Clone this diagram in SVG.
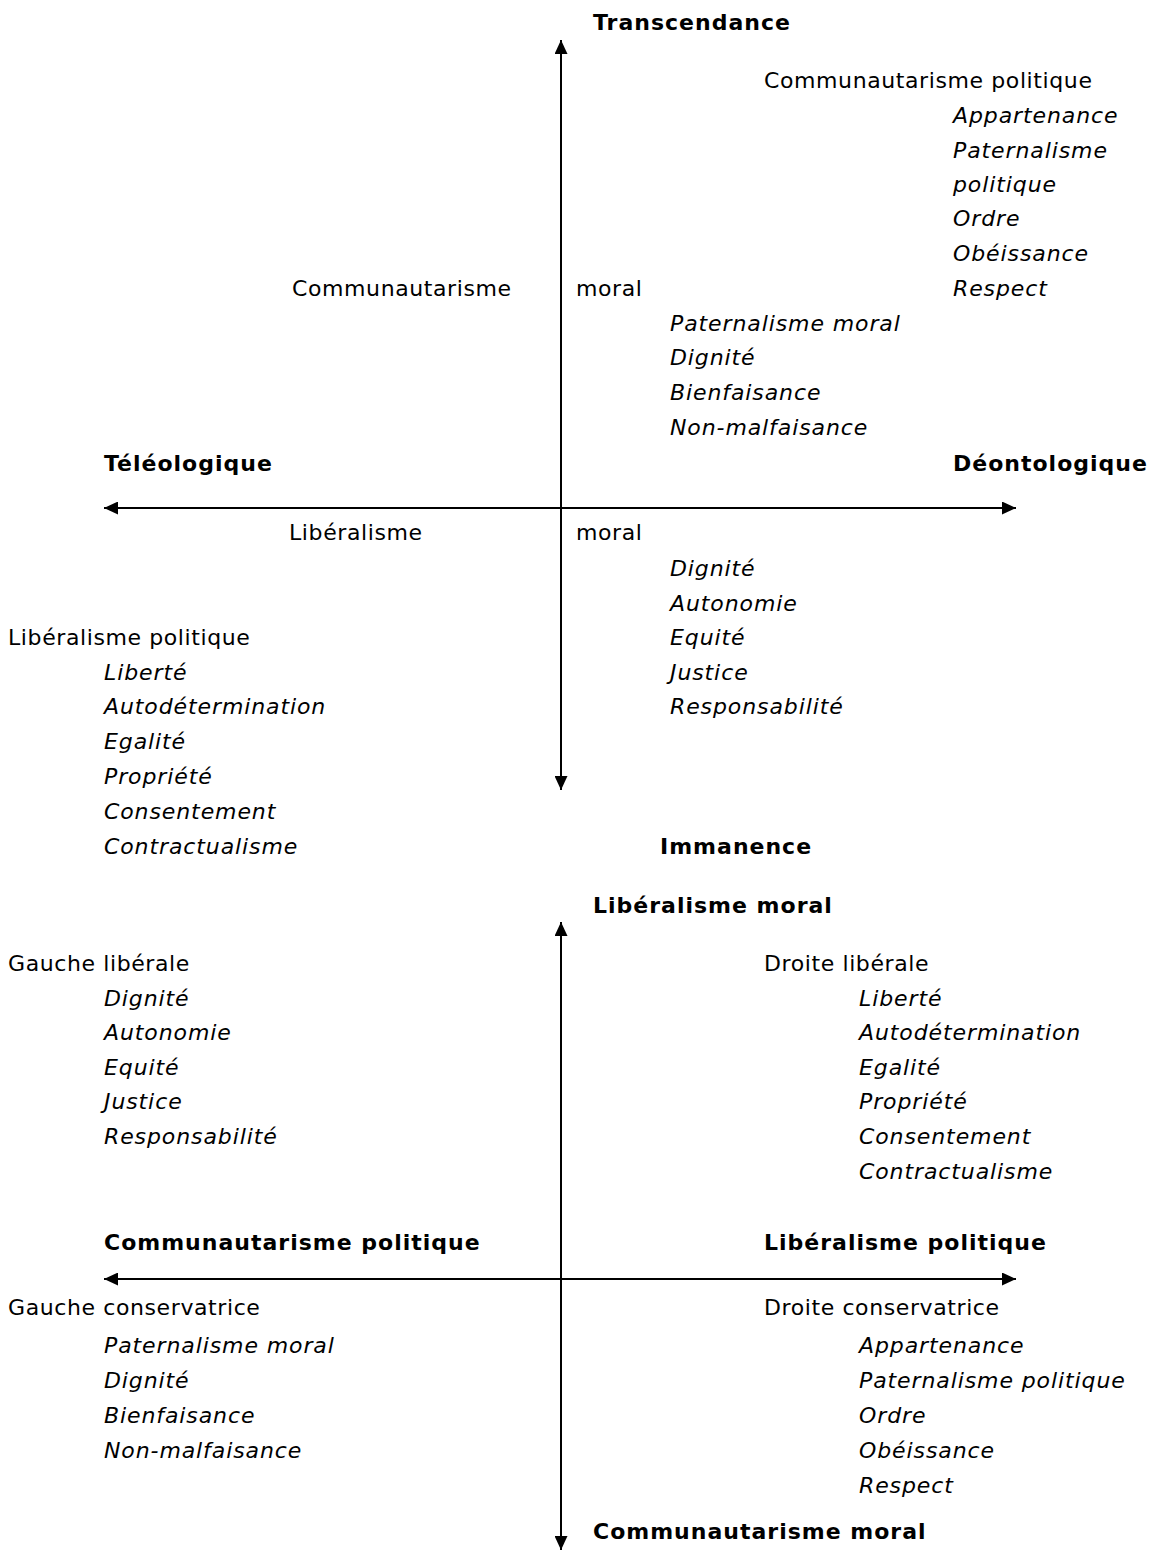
<svg xmlns="http://www.w3.org/2000/svg" width="1151" height="1551" viewBox="0 0 1151 1551">
<defs>
<marker id="ah" viewBox="0 0 10 10" refX="10" refY="5" markerWidth="14" markerHeight="13" markerUnits="userSpaceOnUse" orient="auto-start-reverse" preserveAspectRatio="none">
<path d="M0,0 L10,5 L0,10 z" fill="#000"/>
</marker>
<style>
text{font-family:"DejaVu Sans","Liberation Sans",sans-serif;font-size:22px;letter-spacing:0.6px;fill:#000}
.b{font-weight:bold;letter-spacing:1px}
.i{font-style:italic;letter-spacing:0.9px}
.ax{stroke:#000;stroke-width:2;fill:none}
</style>
</defs>
<rect width="1151" height="1551" fill="#fff"/>
<g id="connectors">
<line class="ax" x1="561" y1="40" x2="561" y2="790" marker-start="url(#ah)" marker-end="url(#ah)"/>
<line class="ax" x1="104" y1="508" x2="1016" y2="508" marker-start="url(#ah)" marker-end="url(#ah)"/>
<line class="ax" x1="561" y1="922" x2="561" y2="1550" marker-start="url(#ah)" marker-end="url(#ah)"/>
<line class="ax" x1="104" y1="1279" x2="1016" y2="1279" marker-start="url(#ah)" marker-end="url(#ah)"/>
</g>
<g id="axis-labels-top">
<text class="b" x="593" y="30">Transcendance</text>
<text class="b" x="104" y="471">Téléologique</text>
<text class="b" x="953" y="471">Déontologique</text>
<text class="b" x="660" y="854">Immanence</text>
</g>
<g id="comm-politique-top">
<text x="764" y="88">Communautarisme politique</text>
<text class="i" x="953" y="123">Appartenance</text>
<text class="i" x="953" y="158">Paternalisme</text>
<text class="i" x="953" y="192">politique</text>
<text class="i" x="953" y="226">Ordre</text>
<text class="i" x="953" y="261">Obéissance</text>
<text class="i" x="953" y="296">Respect</text>
</g>
<g id="comm-moral-top">
<text x="292" y="296">Communautarisme</text>
<text x="576" y="296">moral</text>
<text class="i" x="670" y="331">Paternalisme moral</text>
<text class="i" x="670" y="365">Dignité</text>
<text class="i" x="670" y="400">Bienfaisance</text>
<text class="i" x="670" y="435">Non-malfaisance</text>
</g>
<g id="lib-moral-top">
<text x="289" y="540">Libéralisme</text>
<text x="576" y="540">moral</text>
<text class="i" x="670" y="576">Dignité</text>
<text class="i" x="670" y="611">Autonomie</text>
<text class="i" x="670" y="645">Equité</text>
<text class="i" x="670" y="680">Justice</text>
<text class="i" x="670" y="714">Responsabilité</text>
</g>
<g id="lib-politique-top">
<text x="8" y="645">Libéralisme politique</text>
<text class="i" x="104" y="680">Liberté</text>
<text class="i" x="104" y="714">Autodétermination</text>
<text class="i" x="104" y="749">Egalité</text>
<text class="i" x="104" y="784">Propriété</text>
<text class="i" x="104" y="819">Consentement</text>
<text class="i" x="104" y="854">Contractualisme</text>
</g>
<g id="axis-labels-bottom">
<text class="b" x="593" y="913">Libéralisme moral</text>
<text class="b" x="104" y="1250">Communautarisme politique</text>
<text class="b" x="764" y="1250">Libéralisme politique</text>
<text class="b" x="593" y="1539">Communautarisme moral</text>
</g>
<g id="gauche-liberale">
<text x="8" y="971">Gauche libérale</text>
<text class="i" x="104" y="1006">Dignité</text>
<text class="i" x="104" y="1040">Autonomie</text>
<text class="i" x="104" y="1075">Equité</text>
<text class="i" x="104" y="1109">Justice</text>
<text class="i" x="104" y="1144">Responsabilité</text>
</g>
<g id="droite-liberale">
<text x="764" y="971">Droite libérale</text>
<text class="i" x="859" y="1006">Liberté</text>
<text class="i" x="859" y="1040">Autodétermination</text>
<text class="i" x="859" y="1075">Egalité</text>
<text class="i" x="859" y="1109">Propriété</text>
<text class="i" x="859" y="1144">Consentement</text>
<text class="i" x="859" y="1179">Contractualisme</text>
</g>
<g id="gauche-conservatrice">
<text x="8" y="1315">Gauche conservatrice</text>
<text class="i" x="104" y="1353">Paternalisme moral</text>
<text class="i" x="104" y="1388">Dignité</text>
<text class="i" x="104" y="1423">Bienfaisance</text>
<text class="i" x="104" y="1458">Non-malfaisance</text>
</g>
<g id="droite-conservatrice">
<text x="764" y="1315">Droite conservatrice</text>
<text class="i" x="859" y="1353">Appartenance</text>
<text class="i" x="859" y="1388">Paternalisme politique</text>
<text class="i" x="859" y="1423">Ordre</text>
<text class="i" x="859" y="1458">Obéissance</text>
<text class="i" x="859" y="1493">Respect</text>
</g>
</svg>
